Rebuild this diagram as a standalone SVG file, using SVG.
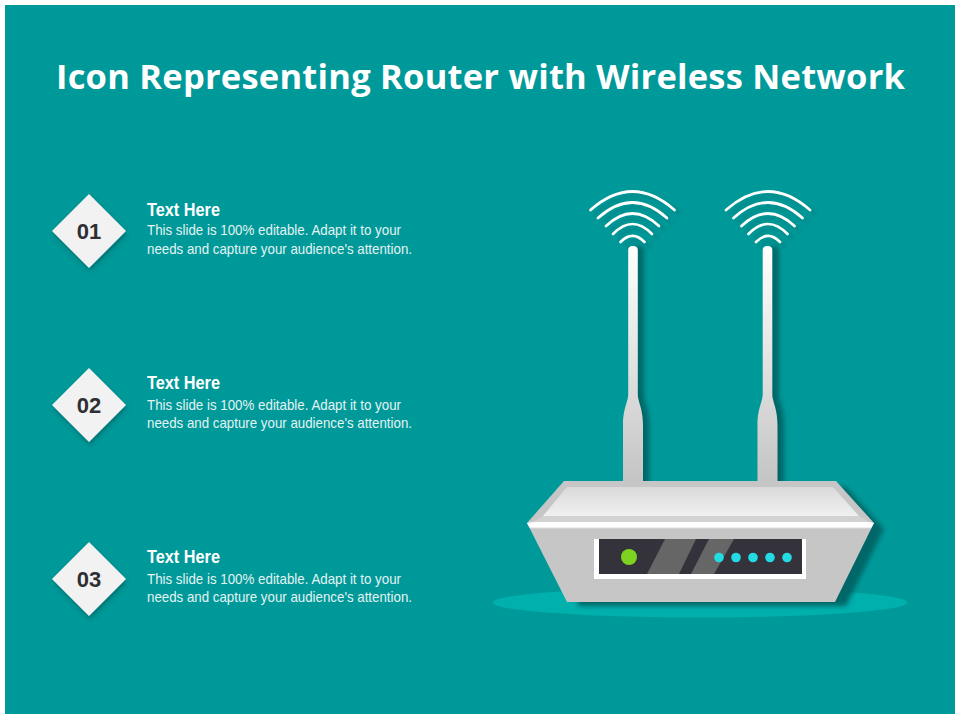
<svg xmlns="http://www.w3.org/2000/svg" width="960" height="720" viewBox="0 0 960 720">
<style>
.title{font:700 34.500px "Open Sans","Liberation Sans",sans-serif;fill:#fff}
.num{font:700 22px "Liberation Sans",sans-serif;fill:#2f2f33;text-anchor:middle}
.head{font:700 19px "Liberation Sans",sans-serif;fill:#fff}
.body{font:400 15px "Liberation Sans",sans-serif;fill:#e4f3f3}
.arc{fill:none;stroke:#fff;stroke-width:2.700;stroke-linecap:round}
.sh{fill:#006668;filter:url(#blur)}
.shl{fill:none;stroke:#006f70;stroke-width:3;stroke-linecap:round;filter:url(#blur);opacity:.5}
.dot{fill:#22dbe3}
</style>
<defs>
<filter id="blur" x="-30%" y="-30%" width="160%" height="160%"><feGaussianBlur stdDeviation="2.600"/></filter>
<filter id="dshadow" x="-30%" y="-30%" width="160%" height="160%"><feDropShadow dx="1" dy="3" stdDeviation="2.500" flood-color="#004c4d" flood-opacity=".5"/></filter>
<linearGradient id="ant" x1="0" y1="0" x2="0" y2="1"><stop offset="0" stop-color="#fff"/><stop offset=".55" stop-color="#dedede"/><stop offset="1" stop-color="#c2c2c2"/></linearGradient>
<linearGradient id="face" x1="0" y1="0" x2="0" y2="1"><stop offset="0" stop-color="#dadada"/><stop offset="1" stop-color="#f0f0f0"/></linearGradient>
<linearGradient id="strip" x1="0" y1="0" x2="0" y2="1"><stop offset="0" stop-color="#fff"/><stop offset=".7" stop-color="#fff"/><stop offset="1" stop-color="#dcdcdc"/></linearGradient>
<g id="wifi">
<path d="M-42 18Q0 -19 42 18"/><path d="M-34.500 26Q0 -5 34.500 26"/><path d="M-26.500 34Q0 9 26.500 34"/><path d="M-19.500 42Q0 22 19.500 42"/><path d="M-12 50Q0 38 12 50"/>
</g>
<path id="antenna" d="M-4.800 250Q-4.800 246 0 246Q4.800 246 4.800 250V394C4.800 402 10 408 10 426V490H-10V426C-10 408 -4.800 402 -4.800 394Z"/>
<polygon id="dia" points="89,194 126,231 89,268 52,231"/>
</defs>
<rect width="960" height="720" fill="#fff"/>
<rect x="5" y="5" width="950" height="709" fill="#009999"/>
<text class="title" x="56" y="89" textLength="849" lengthAdjust="spacing">Icon Representing Router with Wireless Network</text>

<g id="item-01">
<use href="#dia" fill="#f2f2f2" filter="url(#dshadow)"/>
<text class="num" x="89" y="239">01</text>
<text class="head" x="147" y="216" textLength="73" lengthAdjust="spacingAndGlyphs">Text Here</text>
<text class="body" x="147" y="235" textLength="254" lengthAdjust="spacingAndGlyphs">This slide is 100% editable. Adapt it to your</text>
<text class="body" x="147" y="254" textLength="265" lengthAdjust="spacingAndGlyphs">needs and capture your audience's attention.</text>
</g>
<g id="item-02">
<use href="#dia" y="174" fill="#f2f2f2" filter="url(#dshadow)"/>
<text class="num" x="89" y="413">02</text>
<text class="head" x="147" y="389" textLength="73" lengthAdjust="spacingAndGlyphs">Text Here</text>
<text class="body" x="147" y="410" textLength="254" lengthAdjust="spacingAndGlyphs">This slide is 100% editable. Adapt it to your</text>
<text class="body" x="147" y="428" textLength="265" lengthAdjust="spacingAndGlyphs">needs and capture your audience's attention.</text>
</g>
<g id="item-03">
<use href="#dia" y="348" fill="#f2f2f2" filter="url(#dshadow)"/>
<text class="num" x="89" y="587">03</text>
<text class="head" x="147" y="563" textLength="73" lengthAdjust="spacingAndGlyphs">Text Here</text>
<text class="body" x="147" y="584" textLength="254" lengthAdjust="spacingAndGlyphs">This slide is 100% editable. Adapt it to your</text>
<text class="body" x="147" y="602" textLength="265" lengthAdjust="spacingAndGlyphs">needs and capture your audience's attention.</text>
</g>

<g id="router">
<ellipse cx="700" cy="602.500" rx="207" ry="15" fill="#00b0ad"/>
<use href="#wifi" class="shl" x="638" y="196"/>
<use href="#wifi" class="shl" x="773" y="196"/>
<use href="#wifi" class="arc" x="632.500" y="192"/>
<use href="#wifi" class="arc" x="768" y="192"/>
<use href="#antenna" class="sh" x="639"/>
<use href="#antenna" class="sh" x="774"/>
<use href="#antenna" fill="url(#ant)" x="633"/>
<use href="#antenna" fill="url(#ant)" x="767.500"/>
<polygon class="sh" points="574,487 846,487 884,529 846,606 578,606"/>
<polygon points="564,481 836,481 874,523 835,602 567,602 527,523" fill="#c6c6c6"/>
<polygon points="567,487 833,487 859,516 543,516" fill="url(#face)"/>
<polygon points="543,516 859,516 869,522 533,522" fill="#d2d2d2"/>
<polygon points="527,523 533,522 869,522 874,523 871,528.500 530,528.500" fill="url(#strip)"/>
<rect x="594" y="539" width="212" height="40" fill="#fff"/>
<rect x="599" y="539" width="203" height="35" fill="#34323a"/>
<polygon points="665,539 696,539 679,574 647,574" fill="#666"/>
<polygon points="709,539 734,539 714,574 691,574" fill="#666"/>
<circle cx="629" cy="557" r="8" fill="#7ed321"/>
<circle class="dot" cx="719" cy="557.500" r="4.800"/>
<circle class="dot" cx="736" cy="557.500" r="4.800"/>
<circle class="dot" cx="753" cy="557.500" r="4.800"/>
<circle class="dot" cx="770" cy="557.500" r="4.800"/>
<circle class="dot" cx="787" cy="557.500" r="4.800"/>
</g>
</svg>
